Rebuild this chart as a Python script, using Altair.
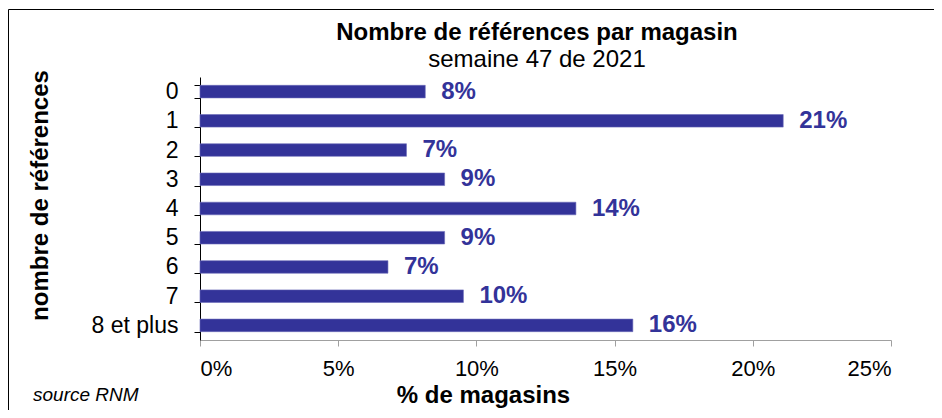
import altair as alt
import pandas as pd

categories = ["0", "1", "2", "3", "4", "5", "6", "7", "8 et plus"]
shares = [0.0815, 0.211, 0.0747, 0.0885, 0.136, 0.0885, 0.068, 0.0953, 0.1566]
labels = ["8%", "21%", "7%", "9%", "14%", "9%", "7%", "10%", "16%"]
x_ticks = [0, 0.05, 0.10, 0.15, 0.20, 0.25]
title_text = "Nombre de références par magasin"
subtitle_text = "semaine 47 de 2021"
source_text = "source RNM"

df = pd.DataFrame({"cat": categories, "share": shares, "label": labels})

FONT = "Liberation Sans"
BLUE = "#333399"

y_enc = alt.Y(
    "cat:N",
    sort=categories,
    scale=alt.Scale(paddingInner=0.57, paddingOuter=0.285),
    axis=alt.Axis(
        title="nombre de références",
        titleFontSize=24,
        titleFontWeight="bold",
        titleColor="black",
        titleX=-160,
        titleY=118,
        titleAngle=270,
        titleAlign="center",
        titleBaseline="middle",
        labelFontSize=23,
        labelColor="black",
        labelPadding=16,
        tickSize=6,
        tickBand="extent",
        tickColor="black",
        domainColor="black",
        grid=False,
    ),
)

x_enc = alt.X(
    "share:Q",
    scale=alt.Scale(domain=[0, 0.25], nice=False),
    axis=alt.Axis(
        format="%",
        values=x_ticks,
        title="% de magasins",
        titleFontSize=24,
        titleFontWeight="bold",
        titleColor="black",
        titleX=283,
        titleY=55,
        titleAlign="center",
        titleBaseline="middle",
        labelFontSize=22,
        labelColor="black",
        labelPadding=12,
        tickSize=6,
        tickColor="#a0a0a0",
        domainColor="#a0a0a0",
        grid=False,
    ),
)

bars = alt.Chart(df).mark_bar(color=BLUE, stroke="#6a6ab8", strokeWidth=0.6).encode(
    x=x_enc, y=y_enc
)

text = alt.Chart(df).mark_text(
    align="left", baseline="middle", dx=16, fontSize=24, fontWeight="bold", color=BLUE
).encode(
    x=alt.X("share:Q"),
    y=alt.Y("cat:N", sort=categories),
    text="label:N",
)

one = alt.Data(values=[{}])

frame = alt.Chart(one).mark_rect(
    fillOpacity=0, stroke="black", strokeWidth=1
).encode(
    x=alt.value(-191.5), x2=alt.value(760), y=alt.value(-67.5), y2=alt.value(360)
)

title = alt.Chart(one).mark_text(
    align="center", baseline="middle", fontSize=24, fontWeight="bold", color="black"
).encode(x=alt.value(337), y=alt.value(-44), text=alt.value(title_text))

subtitle = alt.Chart(one).mark_text(
    align="center", baseline="middle", fontSize=24, color="black"
).encode(x=alt.value(337), y=alt.value(-17), text=alt.value(subtitle_text))

source = alt.Chart(one).mark_text(
    align="left", baseline="middle", fontSize=19, fontStyle="italic", color="black"
).encode(x=alt.value(-167), y=alt.value(318), text=alt.value(source_text))

chart = alt.layer(bars, text, frame, title, subtitle, source).properties(
    width=691,
    height=263,
    autosize=alt.AutoSizeParams(type="none"),
    padding={"left": 192, "top": 69, "right": 43, "bottom": 70},
).configure(font=FONT).configure_view(stroke=None)

chart.save("out.html", embed_options={"renderer": "svg", "actions": False})
